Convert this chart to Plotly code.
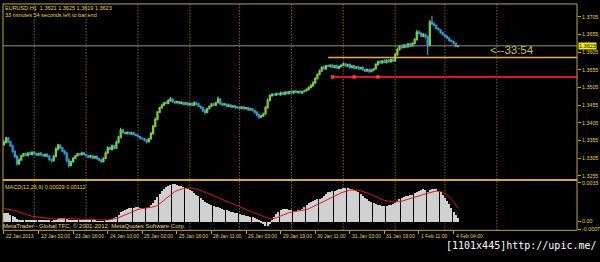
import plotly.graph_objects as go

# ---------------- text ----------------
SYMBOL_TITLE = "EURUSD,H1  1.3621 1.3625 1.3619 1.3623"
TIMER_TEXT = "33 minutes 54 seconds left to bar end"
MACD_TITLE = "MACD(12,26,9) 0.00029 0.00112"
COPYRIGHT = "MetaTrader - Global TFC, \u00a9 2001-2012, MetaQuotes Software Corp."
COUNTDOWN = "<--33:54"
WATERMARK = "[1101x445]http://upic.me/"

# ---------------- data ----------------
FIRST_OPEN = 1.3345
CLOSES = [
    1.3350, 1.3362, 1.3352, 1.3340, 1.3325, 1.3310, 1.3290, 1.3300, 1.3312, 1.3318,
    1.3313, 1.3320, 1.3316, 1.3322, 1.3318, 1.3314, 1.3319, 1.3315, 1.3312, 1.3316,
    1.3310, 1.3302, 1.3298, 1.3310, 1.3330, 1.3342, 1.3335, 1.3325, 1.3320, 1.3300,
    1.3285, 1.3295, 1.3305, 1.3312, 1.3318, 1.3315, 1.3320, 1.3316, 1.3312, 1.3308,
    1.3312, 1.3306, 1.3310, 1.3304, 1.3300, 1.3296, 1.3305, 1.3320, 1.3335, 1.3330,
    1.3340, 1.3334, 1.3350, 1.3365, 1.3385, 1.3378, 1.3375, 1.3378, 1.3374, 1.3377,
    1.3372, 1.3370, 1.3366, 1.3362, 1.3360, 1.3356, 1.3352, 1.3360, 1.3375, 1.3395,
    1.3415, 1.3435, 1.3448, 1.3455, 1.3462, 1.3460, 1.3468, 1.3472, 1.3466, 1.3462,
    1.3465, 1.3460, 1.3463, 1.3458, 1.3461, 1.3456, 1.3460, 1.3455, 1.3462, 1.3458,
    1.3452, 1.3448, 1.3440, 1.3435, 1.3445, 1.3452, 1.3458, 1.3455, 1.3462, 1.3472,
    1.3460, 1.3456, 1.3458, 1.3452, 1.3455, 1.3450, 1.3453, 1.3448, 1.3450, 1.3446,
    1.3450, 1.3445, 1.3448, 1.3442, 1.3445, 1.3440, 1.3435, 1.3428, 1.3422, 1.3425,
    1.3430, 1.3448, 1.3468, 1.3482, 1.3486, 1.3484, 1.3488, 1.3485, 1.3490, 1.3486,
    1.3492, 1.3488, 1.3494, 1.3490, 1.3495, 1.3491, 1.3494, 1.3490, 1.3494, 1.3496,
    1.3500, 1.3505, 1.3510, 1.3518, 1.3530, 1.3542, 1.3552, 1.3562, 1.3558, 1.3566,
    1.3565, 1.3568, 1.3562, 1.3566, 1.3560, 1.3564, 1.3568, 1.3572, 1.3566, 1.3570,
    1.3562, 1.3566, 1.3560, 1.3563, 1.3558, 1.3562, 1.3556, 1.3552, 1.3556, 1.3550,
    1.3554, 1.3558, 1.3570, 1.3578, 1.3575, 1.3580, 1.3576, 1.3582, 1.3578, 1.3584,
    1.3580, 1.3598, 1.3612, 1.3622, 1.3618, 1.3625, 1.3620, 1.3628, 1.3622, 1.3630,
    1.3640, 1.3662, 1.3658, 1.3650, 1.3655, 1.3648, 1.3625, 1.3690, 1.3685, 1.3680,
    1.3672, 1.3668, 1.3660, 1.3654, 1.3650, 1.3645, 1.3638, 1.3635, 1.3630, 1.3621,
    1.3623,
]
UP_WICK_PIPS = [
    6, 4, 3, 2, 3, 2, 4, 5, 3, 2,
    3, 2, 4, 3, 2, 3, 2, 4, 3, 2,
    3, 4, 2, 5, 6, 4, 3, 2, 4, 3,
    5, 4, 3, 2, 3, 2, 4, 3, 2, 3,
    2, 3, 2, 3, 2, 4, 3, 5, 4, 3,
    4, 3, 5, 4, 6, 3, 2, 3, 2, 3,
    2, 3, 2, 3, 2, 3, 4, 3, 5, 4,
    5, 4, 3, 4, 3, 5, 4, 6, 3, 2,
    3, 2, 3, 2, 4, 3, 2, 3, 4, 2,
    3, 2, 3, 4, 3, 2, 3, 4, 3, 8,
    3, 2, 3, 2, 4, 3, 2, 3, 2, 3,
    2, 3, 2, 3, 2, 3, 2, 4, 3, 3,
    4, 5, 6, 4, 3, 2, 3, 2, 4, 3,
    2, 3, 2, 3, 2, 3, 2, 3, 2, 3,
    3, 4, 5, 5, 4, 3, 4, 3, 5, 3,
    4, 3, 4, 3, 4, 3, 3, 4, 3, 2,
    3, 2, 3, 2, 3, 2, 3, 2, 3, 2,
    3, 2, 4, 3, 4, 3, 5, 3, 4, 3,
    4, 5, 6, 4, 5, 3, 4, 3, 4, 3,
    5, 6, 4, 3, 4, 3, 5, 6, 18, 4,
    3, 3, 2, 3, 2, 3, 2, 3, 2, 2,
    2,
]
DN_WICK_PIPS = [
    5, 3, 4, 3, 4, 5, 6, 3, 2, 3,
    2, 3, 2, 3, 2, 3, 2, 3, 2, 3,
    3, 4, 5, 3, 2, 3, 4, 3, 5, 6,
    6, 3, 2, 3, 2, 3, 2, 3, 2, 3,
    2, 3, 2, 3, 3, 4, 3, 2, 3, 2,
    3, 4, 2, 3, 4, 3, 2, 3, 2, 3,
    2, 3, 2, 3, 2, 3, 5, 3, 2, 3,
    2, 3, 2, 3, 2, 3, 2, 3, 4, 3,
    2, 3, 2, 3, 2, 3, 2, 3, 2, 3,
    3, 4, 5, 6, 3, 2, 3, 2, 3, 2,
    4, 3, 2, 3, 2, 3, 2, 3, 2, 3,
    2, 3, 2, 3, 2, 3, 4, 5, 6, 4,
    3, 2, 3, 2, 3, 2, 3, 2, 3, 2,
    3, 2, 3, 2, 3, 2, 3, 2, 3, 2,
    2, 3, 2, 3, 3, 2, 3, 3, 2, 3,
    2, 3, 2, 3, 2, 3, 2, 3, 2, 3,
    3, 2, 3, 2, 3, 2, 4, 3, 2, 3,
    2, 3, 2, 3, 2, 3, 2, 3, 2, 3,
    3, 2, 3, 2, 3, 2, 3, 2, 3, 2,
    3, 2, 3, 2, 3, 4, 28, 5, 3, 2,
    3, 2, 3, 2, 3, 2, 3, 2, 3, 2,
    2,
]
# MACD main (histogram) and signal, in units of 0.0001
MACD_E4 = [
    7, 7.5, 7, 6, 5, 3.5, 2, 1, 0.5, 0.5,
    0.8, 1, 1.2, 1.3, 1.3, 1.2, 1.2, 1.1, 1.0, 1.0,
    0.8, 0.5, 0.3, 0.6, 1.5, 2.5, 3, 3.2, 2.8, 1.8,
    0.8, 0.6, 0.7, 0.9, 1.1, 1.2, 1.3, 1.3, 1.2, 1.0,
    0.9, 0.7, 0.6, 0.4, 0.2, 0.1, 0.3, 0.8, 1.5, 2.0,
    2.6, 3.2, 4.2, 5.8, 7.8, 9, 10, 10.8, 11.4, 11.8,
    12, 12.2, 12.2, 12, 11.8, 11.6, 11.8, 12.6, 14, 16,
    18.5, 21, 23.5, 26, 28, 29.5, 30.8, 31.6, 32, 31.8,
    31.3, 30.6, 30, 29.5, 29, 28, 27, 26, 24.5, 23,
    21.5, 20, 18.5, 17, 16, 15, 14, 13, 12.5, 12.5,
    11.5, 10.5, 10, 9.5, 9, 8.5, 8, 7.5, 7, 6.5,
    6, 5.5, 5, 4.5, 4, 3.5, 3, 2.2, 1, -0.5,
    -2, -3.5, -4, -2, 1, 4, 6.5, 8.5, 10, 11,
    11, 10.5, 10, 9.5, 9, 9, 9.5, 10, 11, 12.5,
    14, 15.5, 17, 18, 18.5, 19, 19.5, 20.5, 22, 23.5,
    25, 25.5, 26, 26.5, 27, 27.5, 28, 28.5, 28.5, 28.5,
    28, 27.5, 27, 26, 25, 23.5, 22, 20.5, 19, 17.5,
    16.5, 15.5, 15, 14.5, 14, 13.5, 13.5, 13.5, 14, 14.5,
    15, 16, 17.5, 19, 20, 21, 21.5, 22, 22.5, 23,
    24, 25.5, 26.5, 27, 27.5, 27, 25.5, 27, 28, 28,
    27.5, 26.5, 25, 23, 20.5, 18, 15, 11.5, 8.5, 5.5,
    2.9,
]
SIGNAL_E4 = [
    11, 10.8, 10.5, 10.2, 9.8, 9.3, 8.6, 7.9, 7.2, 6.5,
    5.9, 5.3, 4.9, 4.5, 4.2, 3.9, 3.6, 3.3, 3.1, 2.9,
    2.7, 2.5, 2.3, 2.2, 2.2, 2.3, 2.5, 2.7, 2.8, 2.7,
    2.6, 2.4, 2.2, 2.1, 2.0, 2.0, 2.0, 2.0, 2.0, 1.9,
    1.8, 1.7, 1.6, 1.5, 1.4, 1.3, 1.2, 1.2, 1.3, 1.5,
    1.8, 2.1, 2.6, 3.2, 4.0, 4.9, 5.9, 6.8, 7.7, 8.5,
    9.2, 9.8, 10.3, 10.7, 11.0, 11.2, 11.3, 11.4, 11.6, 12.0,
    12.8, 13.8, 15.0, 16.5, 18.0, 19.7, 21.3, 22.8, 24.2, 25.4,
    26.4, 27.2, 27.8, 28.2, 28.5, 28.6, 28.6, 28.4, 28.1, 27.7,
    27.2, 26.6, 25.9, 25.1, 24.3, 23.5, 22.6, 21.8, 20.9, 20.1,
    19.3, 18.5, 17.7, 16.9, 16.1, 15.3, 14.5, 13.7, 12.9, 12.1,
    11.4, 10.7, 10.0, 9.3, 8.6, 7.9, 7.2, 6.5, 5.8, 5.0,
    4.2, 3.4, 2.7, 2.3, 2.2, 2.5, 3.1, 3.9, 4.7, 5.6,
    6.4, 7.1, 7.6, 8.0, 8.3, 8.5, 8.7, 8.9, 9.2, 9.6,
    10.2, 10.9, 11.7, 12.6, 13.5, 14.4, 15.3, 16.2, 17.1, 18.0,
    19.0, 20.0, 21.0, 21.9, 22.8, 23.6, 24.4, 25.1, 25.8, 26.3,
    26.7, 26.9, 27.0, 26.9, 26.7, 26.3, 25.8, 25.2, 24.5, 23.7,
    22.8, 21.9, 21.0, 20.2, 19.4, 18.7, 18.1, 17.6, 17.2, 16.9,
    16.7, 16.6, 16.7, 17.0, 17.4, 17.9, 18.4, 18.9, 19.4, 19.9,
    20.4, 21.0, 21.7, 22.4, 23.1, 23.7, 24.0, 24.6, 25.2, 25.6,
    25.9, 25.9, 25.7, 25.1, 24.2, 22.9, 21.3, 19.3, 16.9, 14.2,
    11.2,
]

DATE_TICK_BARS = [0, 16, 32, 48, 64, 80, 96, 112, 128, 144, 160, 176, 192, 208]
DATE_TICK_LABELS = ["22 Jan 2013", "23 Jan 02:00", "23 Jan 18:00", "24 Jan 10:00",
                    "25 Jan 02:00", "25 Jan 18:00", "28 Jan 11:00", "29 Jan 03:00",
                    "29 Jan 19:00", "30 Jan 11:00", "31 Jan 03:00", "31 Jan 19:00",
                    "1 Feb 11:00", "4 Feb 04:00"]
DAY_BREAK_BARS = [14, 38, 62, 86, 109, 133, 157, 181, 204, 228]

PRICE_TICKS = [1.3255, 1.3305, 1.3355, 1.3405, 1.3455, 1.3505, 1.3555, 1.3605, 1.3655, 1.3705]
MACD_TICKS = [0.0033, 0.0, -0.0007]
MACD_TICK_TEXT = ["0.0033", "0.00", "-0.0007"]

BID = 1.3623
RESIST_LEVEL = 1.3590
RESIST_START = 150
SUPPORT_LEVEL = 1.3535
SUPPORT_DOTS = [152, 162, 173]
COUNTDOWN_PRICE = 1.3610

# ---------------- styles ----------------
W, H = 600, 262
X_RANGE = [-0.462, 265.13]
PRICE_RANGE = [1.32438, 1.37413]
MACD_RANGE = [-0.000761, 0.003469]
L_PX, R_PX, T_PX, SEP_PX, B_PX = 3, 578, 3, 181, 232

BG = "#000000"
FRAME = "#c2a83a"
SEPC = "#d2ac2e"
GRID = "#c0943a"
LABEL = "#e6d35a"
UP = "#7ccc48"
DOWN = "#2e9ad2"
FONT = "Liberation Sans, Arial, sans-serif"


def fx(p):
    return p / W


def fy(p):
    return 1 - p / H


n = len(CLOSES)
idx = list(range(n))
opens = [FIRST_OPEN] + CLOSES[:-1]
highs = [max(o, c) + u * 0.0001 for o, c, u in zip(opens, CLOSES, UP_WICK_PIPS)]
lows = [min(o, c) - d * 0.0001 for o, c, d in zip(opens, CLOSES, DN_WICK_PIPS)]
macd = [v * 0.0001 for v in MACD_E4]
signal = [v * 0.0001 for v in SIGNAL_E4]

fig = go.Figure()
fig.add_trace(go.Candlestick(
    x=idx, open=opens, high=highs, low=lows, close=CLOSES,
    increasing=dict(line=dict(color=UP, width=1.2), fillcolor=UP),
    decreasing=dict(line=dict(color=DOWN, width=1.2), fillcolor=DOWN),
    whiskerwidth=0, xaxis="x", yaxis="y", hoverinfo="skip", showlegend=False))
fig.add_trace(go.Scatter(
    x=SUPPORT_DOTS, y=[SUPPORT_LEVEL] * len(SUPPORT_DOTS), mode="markers",
    marker=dict(color="#ff3a3a", size=3.5, symbol="square"),
    xaxis="x", yaxis="y", hoverinfo="skip", showlegend=False))
fig.add_trace(go.Bar(
    x=list(range(len(macd))), y=macd, width=0.5,
    marker=dict(color="#d0d0d0", line=dict(width=0)),
    xaxis="x2", yaxis="y2", hoverinfo="skip", showlegend=False))
fig.add_trace(go.Scatter(
    x=list(range(len(signal))), y=signal, mode="lines",
    line=dict(color="#d41c1c", width=1),
    xaxis="x2", yaxis="y2", hoverinfo="skip", showlegend=False))

shapes = []
for d in DAY_BREAK_BARS:
    shapes.append(dict(type="line", xref="x", yref="paper", x0=d, x1=d,
                       y0=fy(B_PX), y1=fy(T_PX), layer="below",
                       line=dict(color=GRID, width=1, dash="1px,2px")))
shapes.append(dict(type="line", xref="paper", yref="y", x0=fx(L_PX), x1=fx(R_PX),
                   y0=BID, y1=BID, line=dict(color="#8c8c8c", width=1)))
shapes.append(dict(type="line", xref="x", yref="y", x0=RESIST_START, x1=X_RANGE[1],
                   y0=RESIST_LEVEL, y1=RESIST_LEVEL, line=dict(color="#eeaa48", width=1.5)))
shapes.append(dict(type="line", xref="x", yref="y", x0=SUPPORT_DOTS[0], x1=X_RANGE[1],
                   y0=SUPPORT_LEVEL, y1=SUPPORT_LEVEL, line=dict(color="#d81818", width=2),
                   layer="below"))
shapes.append(dict(type="rect", xref="paper", yref="paper", x0=fx(L_PX), x1=fx(R_PX),
                   y0=fy(B_PX), y1=fy(T_PX), line=dict(color=FRAME, width=1)))
shapes.append(dict(type="line", xref="paper", yref="paper", x0=fx(L_PX), x1=fx(R_PX),
                   y0=fy(SEP_PX), y1=fy(SEP_PX), line=dict(color=SEPC, width=2)))

small = dict(family=FONT, size=5.5, color=LABEL)
ann = [
    dict(text=SYMBOL_TITLE, x=fx(3), y=fy(7), font=small),
    dict(text=TIMER_TEXT, x=fx(3), y=fy(14), font=small),
    dict(text=MACD_TITLE, x=fx(3), y=fy(188), font=small),
    dict(text=COPYRIGHT, x=fx(1), y=fy(228), font=dict(family=FONT, size=6, color="#e8dc8a")),
    dict(text=COUNTDOWN, x=fx(489), y=COUNTDOWN_PRICE, yref="y",
         font=dict(family=FONT, size=11.5, color="#cdc43c")),
    dict(text=WATERMARK, x=fx(445), y=fy(247.5),
         font=dict(family="DejaVu Sans Mono, monospace", size=10, color="#ffffff")),
    dict(text="1.3623", x=fx(579), y=BID, yref="y", bgcolor="#f4f000",
         borderpad=0, font=dict(family=FONT, size=5.5, color="#000000")),
]
for b, lab in zip(DATE_TICK_BARS, DATE_TICK_LABELS):
    ann.append(dict(text=lab, x=b, xref="x", y=fy(238), font=dict(family=FONT, size=5, color=LABEL)))
annotations = []
for a in ann:
    base = dict(xref="paper", yref="paper", xanchor="left", yanchor="middle",
                showarrow=False, borderpad=1)
    base.update(a)
    annotations.append(base)

price_text = ["%.4f" % v for v in PRICE_TICKS]

fig.update_layout(
    width=W, height=H, margin=dict(l=0, r=0, t=0, b=0),
    paper_bgcolor=BG, plot_bgcolor=BG, showlegend=False, bargap=0,
    xaxis=dict(domain=[fx(L_PX), fx(R_PX)], range=X_RANGE, anchor="y",
               showgrid=False, zeroline=False, showticklabels=False, ticks="",
               showline=False, rangeslider=dict(visible=False)),
    xaxis2=dict(domain=[fx(L_PX), fx(R_PX)], range=X_RANGE, anchor="y2", matches="x",
                showgrid=False, zeroline=False, showticklabels=False,
                tickmode="array", tickvals=DATE_TICK_BARS, ticks="outside",
                ticklen=3, tickcolor=FRAME, tickwidth=1, showline=False),
    yaxis=dict(domain=[fy(SEP_PX), fy(T_PX)], range=PRICE_RANGE, anchor="x", side="right",
               tickmode="array", tickvals=PRICE_TICKS, ticktext=price_text,
               ticks="outside", ticklen=3, tickcolor=FRAME, tickwidth=1,
               tickfont=dict(family=FONT, size=5.3, color=LABEL),
               showgrid=False, zeroline=False, showline=False),
    yaxis2=dict(domain=[fy(B_PX), fy(SEP_PX + 1)], range=MACD_RANGE, anchor="x2", side="right",
                tickmode="array", tickvals=MACD_TICKS, ticktext=MACD_TICK_TEXT,
                ticks="outside", ticklen=3, tickcolor=FRAME, tickwidth=1,
                tickfont=dict(family=FONT, size=5.3, color=LABEL),
                showgrid=False, zeroline=False, showline=False),
    shapes=shapes, annotations=annotations,
)

fig.write_html("out.html")
